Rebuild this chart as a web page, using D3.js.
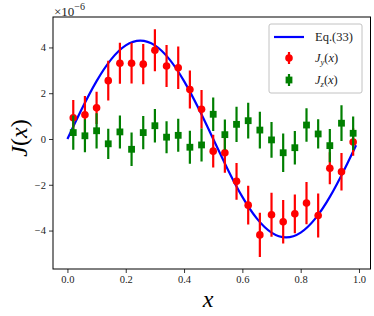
<!DOCTYPE html>
<html><head><meta charset="utf-8">
<script src="https://cdn.jsdelivr.net/npm/d3@7"></script>
<style>body{margin:0;background:#fff}svg{display:block}</style>
</head><body>
<svg id="c" width="374" height="316"></svg>
<script>
// Data
const xPoints = [0.02,0.06,0.10,0.14,0.18,0.22,0.26,0.30,0.34,0.38,0.42,0.46,0.50,0.54,0.58,0.62,0.66,0.70,0.74,0.78,0.82,0.86,0.90,0.94,0.98];
const jyValues = [0.93,1.06,1.36,2.55,3.31,3.31,3.27,3.88,3.19,3.11,2.16,1.30,-0.53,-0.60,-1.85,-2.89,-4.19,-3.31,-3.62,-3.27,-2.80,-3.34,-1.28,-1.43,-0.13];
const jyErrors = [0.77,0.82,0.70,0.87,0.90,0.89,0.88,0.92,0.92,0.93,0.83,0.84,0.72,0.88,0.80,0.85,0.97,0.96,0.95,0.85,0.92,0.96,0.70,0.82,0.60];
const jzValues = [0.28,0.14,0.36,-0.21,0.31,-0.45,0.28,0.58,0.08,0.16,-0.36,-0.26,1.08,0.19,0.64,0.80,0.39,-0.04,-0.60,-0.38,0.61,0.22,-0.29,0.69,0.25];
const jzErrors = [0.75,0.72,0.77,0.66,0.72,0.73,0.73,0.73,0.70,0.72,0.72,0.72,0.73,0.66,0.77,0.78,0.80,0.78,0.84,0.73,0.73,0.64,0.73,0.78,0.73];
const eqX = [0,0.05,0.10,0.15,0.20,0.25,0.30,0.35,0.40,0.45,0.50,0.55,0.60,0.65,0.70,0.75,0.80,0.85,0.90,0.95,0.99];
const eqY = [0,1.33,2.53,3.48,4.09,4.30,4.09,3.48,2.53,1.33,0,-1.33,-2.53,-3.48,-4.09,-4.30,-4.09,-3.48,-2.53,-1.33,-0.27];
const xTicks = [0,0.2,0.4,0.6,0.8,1.0];
const yTicks = [-4,-2,0,2,4];
const legendLabels = ["Eq.(33)","J_y(x)","J_z(x)"];

const svg = d3.select("#c");
const L=53, R=370.5, T=17, B=269;
const x = d3.scaleLinear().domain([-0.0495,1.0395]).range([L,R]);
const y = d3.scaleLinear().domain([-5.68,5.33]).range([B,T]);
const serif = "'Liberation Serif','DejaVu Serif',serif";

svg.append("rect").attr("width",374).attr("height",316).attr("fill","#fff");

// Axes
const xa = svg.append("g").attr("transform",`translate(0,${B})`)
  .call(d3.axisBottom(x).tickValues(xTicks).tickFormat(d3.format(".1f")).tickSize(4).tickPadding(3));
const ya = svg.append("g").attr("transform",`translate(${L},0)`)
  .call(d3.axisLeft(y).tickValues(yTicks).tickFormat(d=>d<0?"\u2212"+Math.abs(d):String(d)).tickSize(4).tickPadding(3));
[xa,ya].forEach(a=>{
  a.select(".domain").remove();
  a.selectAll(".tick line").attr("stroke","#000").attr("stroke-width",0.8);
  a.selectAll(".tick text").attr("font-family",serif).attr("font-size",10.5).attr("fill","#222");
});

// Eq curve
const clipId="clp";
svg.append("clipPath").attr("id",clipId).append("rect").attr("x",L).attr("y",T).attr("width",R-L).attr("height",B-T);
const plot = svg.append("g").attr("clip-path",`url(#${clipId})`);
plot.append("path").datum(eqX.map((v,i)=>[v,eqY[i]]))
  .attr("d",d3.line().x(d=>x(d[0])).y(d=>y(d[1])).curve(d3.curveNatural))
  .attr("fill","none").attr("stroke","#0000ff").attr("stroke-width",2.2);

// Jy (red)
const red="#ff0000", green="#007f00";
const gy = plot.append("g");
xPoints.forEach((xv,i)=>{
  gy.append("line").attr("x1",x(xv)).attr("x2",x(xv)).attr("y1",y(jyValues[i]-jyErrors[i])).attr("y2",y(jyValues[i]+jyErrors[i]))
    .attr("stroke",red).attr("stroke-width",2.2);
  gy.append("circle").attr("cx",x(xv)).attr("cy",y(jyValues[i])).attr("r",3.8).attr("fill",red);
});
// Jz (green)
const gz = plot.append("g");
xPoints.forEach((xv,i)=>{
  gz.append("line").attr("x1",x(xv)).attr("x2",x(xv)).attr("y1",y(jzValues[i]-jzErrors[i])).attr("y2",y(jzValues[i]+jzErrors[i]))
    .attr("stroke",green).attr("stroke-width",2.2);
  gz.append("rect").attr("x",x(xv)-3.4).attr("y",y(jzValues[i])-3.4).attr("width",6.8).attr("height",6.8).attr("fill",green);
});

// Frame
svg.append("rect").attr("x",L).attr("y",T).attr("width",R-L).attr("height",B-T)
  .attr("fill","none").attr("stroke","#000").attr("stroke-width",1);

// offset text
const off = svg.append("text").attr("x",54).attr("y",16).attr("font-family",serif).attr("font-size",13).attr("fill","#222");
off.append("tspan").text("\u00d710");
off.append("tspan").attr("dy",-6).attr("font-size",10).text("\u22126");

// Axis labels
svg.append("text").attr("x",208).attr("y",307).attr("text-anchor","middle").attr("font-family",serif)
  .attr("font-style","italic").attr("font-size",24).text("x");
const yl = svg.append("text").attr("transform","translate(27,138) rotate(-90)").attr("text-anchor","middle")
  .attr("font-family",serif).attr("font-size",24);
yl.append("tspan").attr("font-style","italic").text("J");
yl.append("tspan").text("(");
yl.append("tspan").attr("font-style","italic").text("x");
yl.append("tspan").text(")");

// Legend
const lg = svg.append("g");
lg.append("rect").attr("x",269).attr("y",24).attr("width",93).attr("height",69).attr("rx",2)
  .attr("fill","#fff").attr("stroke","#bbb").attr("stroke-width",0.9);
lg.append("line").attr("x1",274).attr("x2",304).attr("y1",37).attr("y2",37).attr("stroke","#0000ff").attr("stroke-width",2.2);
lg.append("line").attr("x1",289).attr("x2",289).attr("y1",52).attr("y2",64).attr("stroke",red).attr("stroke-width",2.2);
lg.append("circle").attr("cx",289).attr("cy",58).attr("r",3.8).attr("fill",red);
lg.append("line").attr("x1",289).attr("x2",289).attr("y1",74).attr("y2",86).attr("stroke",green).attr("stroke-width",2.2);
lg.append("rect").attr("x",289-3.4).attr("y",80-3.4).attr("width",6.8).attr("height",6.8).attr("fill",green);
lg.append("text").attr("x",315).attr("y",41).attr("font-family",serif).attr("font-size",12.5).attr("fill","#222").text(legendLabels[0]);
[[legendLabels[1],62],[legendLabels[2],84]].forEach(([lab,yy])=>{
  const [main,rest]=lab.split("_");
  const t=lg.append("text").attr("x",315).attr("y",yy).attr("font-family",serif).attr("font-size",12.5).attr("fill","#222");
  t.append("tspan").attr("font-style","italic").text(main);
  t.append("tspan").attr("font-style","italic").attr("font-size",8.5).attr("dy",3).text(rest[0]);
  t.append("tspan").attr("dy",-3).text("(");
  t.append("tspan").attr("font-style","italic").text("x");
  t.append("tspan").text(")");
});
</script>
</body></html>
